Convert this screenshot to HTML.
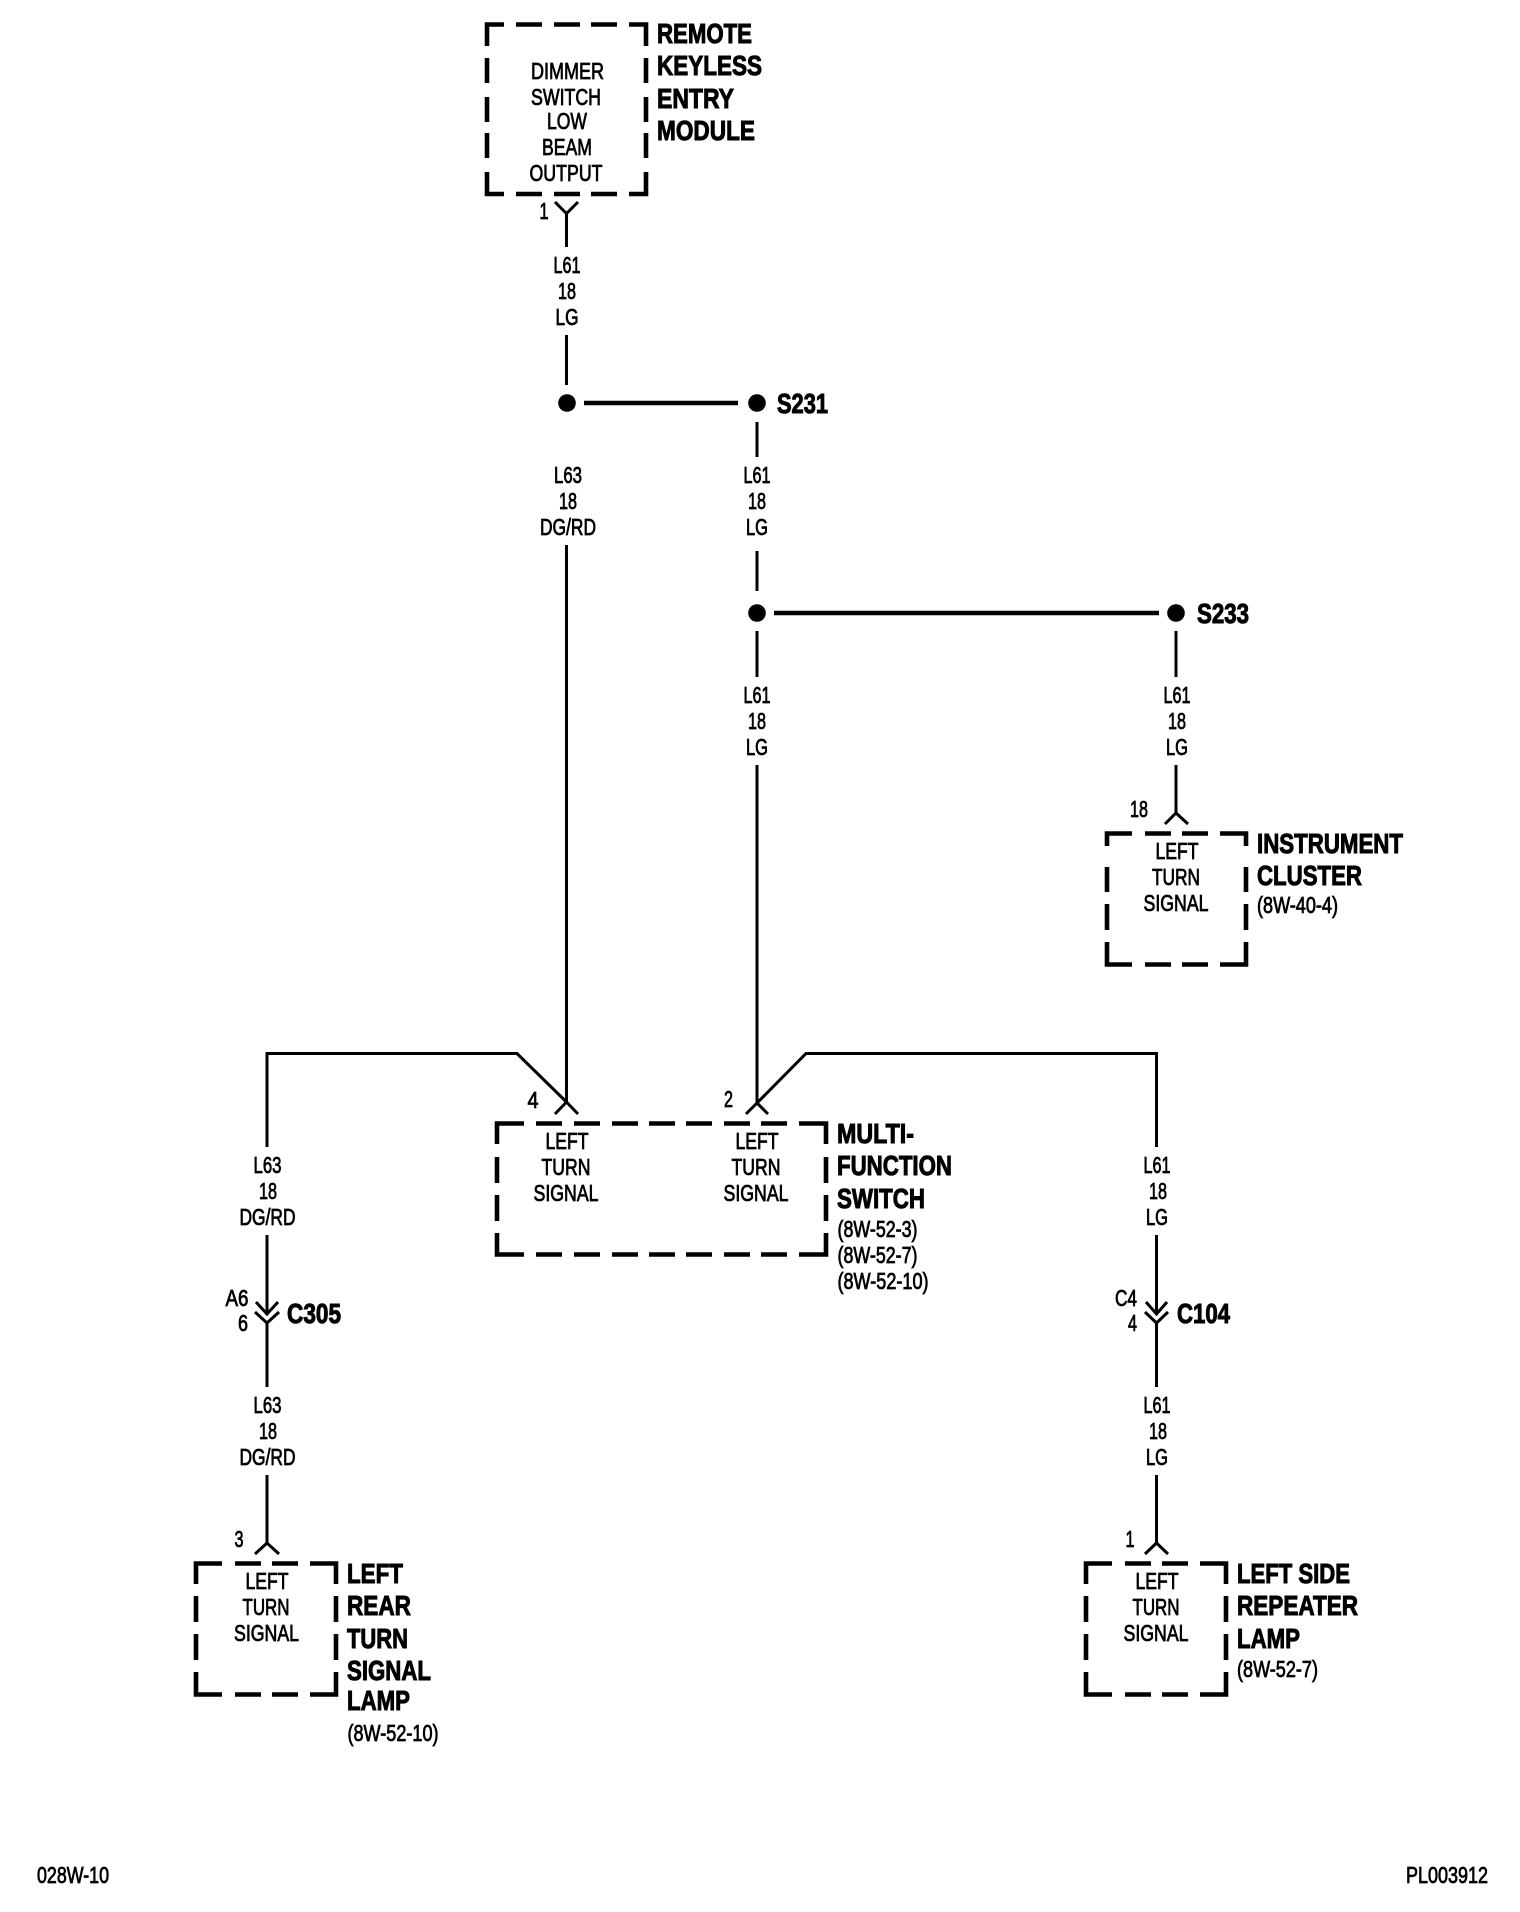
<!DOCTYPE html>
<html><head><meta charset="utf-8"><style>
html,body{margin:0;padding:0;background:#fff}
svg{display:block}
text{font-family:"Liberation Sans",sans-serif;fill:#000}
.s{font-size:23px;stroke:#000;stroke-width:.8}
.b{font-size:28px;font-weight:700;stroke:#000;stroke-width:1}
.m{text-anchor:middle}
.w{fill:none;stroke:#000;stroke-width:3}
.h{fill:none;stroke:#000;stroke-width:4.6}
</style></head><body>
<svg xmlns="http://www.w3.org/2000/svg" width="1520" height="1912" viewBox="0 0 1520 1912">
<rect width="1520" height="1912" fill="#fff"/>

<!-- boxes -->
<path class="h" d="M504 24.5H487V46M516 24.5H542M554 24.5H580M591 24.5H617M629 24.5H646V46M487 58V83M487 97V122M487 133V158M487 172V194H504M516 194H542M554 194H580M591 194H617M629 194H646V172M646 58V83M646 97V122M646 133V158"/>
<path class="h" d="M524 1123.5H497V1144M536 1123.5H562M574 1123.5H600M612 1123.5H638M649 1123.5H675M686 1123.5H712M724 1123.5H750M761 1123.5H787M799 1123.5H826V1144M497 1157V1183M497 1195V1221M497 1233V1254.5H524M536 1254.5H562M574 1254.5H600M612 1254.5H638M649 1254.5H675M686 1254.5H712M724 1254.5H750M761 1254.5H787M799 1254.5H826V1233M826 1157V1183M826 1195V1221"/>
<path class="h" d="M222 1563.5H196V1584M235 1563.5H261M272 1563.5H298M310 1563.5H336V1584M196 1596V1622M196 1634V1660M196 1672V1694.5H222M235 1694.5H261M272 1694.5H298M310 1694.5H336V1672M336 1596V1622M336 1634V1660"/>
<path class="h" d="M1112 1563.5H1086V1584M1125 1563.5H1151M1162 1563.5H1188M1200 1563.5H1226V1584M1086 1596V1622M1086 1634V1660M1086 1672V1694.5H1112M1125 1694.5H1151M1162 1694.5H1188M1200 1694.5H1226V1672M1226 1596V1622M1226 1634V1660"/>
<path class="h" d="M1132 833.5H1107V846M1145 833.5H1171M1182 833.5H1208M1220 833.5H1246V846M1107 867V892M1107 904V930M1107 942V964.5H1132M1145 964.5H1171M1182 964.5H1208M1220 964.5H1246V942M1246 867V892M1246 904V930"/>

<!-- wires -->
<path class="w" d="M555 202L566.5 213.5L578 202M566.5 213.5V247M566.5 335V385M566.5 545V1102"/>
<path class="h" d="M584 403H738M774 613H1159"/>
<circle cx="567" cy="403" r="8.8"/><circle cx="757" cy="403" r="8.8"/>
<circle cx="757" cy="613" r="8.8"/><circle cx="1176" cy="613" r="8.8"/>
<path class="w" d="M757 422V457M757 551V591M757 631V677M757 765V1103M1176 631V677M1176 765V813M1165 824L1176 813L1188 824"/>
<path class="w" d="M267 1147V1053.5H517L566.5 1102M555 1114L566.5 1102L578 1114M746 1114L757 1103L768 1114M757 1103L806 1053.5H1156.5V1147"/>
<path class="w" d="M267 1235V1314M256 1302L267 1314L278 1302M255 1312L267 1323L279 1312M267 1323V1387M267 1475V1543M255 1554L267 1543L279 1554"/>
<path class="w" d="M1156.5 1235V1314M1146 1302L1156.5 1314L1167 1302M1145 1312L1156.5 1323L1168 1312M1156.5 1323V1387M1156.5 1475V1543M1145 1554L1156.5 1543L1168 1554"/>

<!-- top module -->
<g class="s m">
<text x="567.5" y="79" textLength="73" lengthAdjust="spacingAndGlyphs">DIMMER</text>
<text x="566" y="105" textLength="70" lengthAdjust="spacingAndGlyphs">SWITCH</text>
<text x="567" y="129" textLength="40" lengthAdjust="spacingAndGlyphs">LOW</text>
<text x="567" y="155" textLength="50" lengthAdjust="spacingAndGlyphs">BEAM</text>
<text x="566" y="181" textLength="73" lengthAdjust="spacingAndGlyphs">OUTPUT</text>
<text x="544" y="219" textLength="9" lengthAdjust="spacingAndGlyphs">1</text>
<text x="567" y="273" textLength="27" lengthAdjust="spacingAndGlyphs">L61</text>
<text x="567" y="299" textLength="18" lengthAdjust="spacingAndGlyphs">18</text>
<text x="567" y="325" textLength="23" lengthAdjust="spacingAndGlyphs">LG</text>

<text x="568" y="483" textLength="28" lengthAdjust="spacingAndGlyphs">L63</text>
<text x="568" y="509" textLength="18" lengthAdjust="spacingAndGlyphs">18</text>
<text x="568" y="535" textLength="56" lengthAdjust="spacingAndGlyphs">DG/RD</text>
<text x="757" y="483" textLength="27" lengthAdjust="spacingAndGlyphs">L61</text>
<text x="757" y="509" textLength="18" lengthAdjust="spacingAndGlyphs">18</text>
<text x="757" y="535" textLength="22" lengthAdjust="spacingAndGlyphs">LG</text>
<text x="757" y="703" textLength="27" lengthAdjust="spacingAndGlyphs">L61</text>
<text x="757" y="729" textLength="18" lengthAdjust="spacingAndGlyphs">18</text>
<text x="757" y="755" textLength="22" lengthAdjust="spacingAndGlyphs">LG</text>
<text x="1177" y="703" textLength="27" lengthAdjust="spacingAndGlyphs">L61</text>
<text x="1177" y="729" textLength="18" lengthAdjust="spacingAndGlyphs">18</text>
<text x="1177" y="755" textLength="22" lengthAdjust="spacingAndGlyphs">LG</text>

<text x="1139" y="817" textLength="18" lengthAdjust="spacingAndGlyphs">18</text>
<text x="1177" y="859" textLength="43" lengthAdjust="spacingAndGlyphs">LEFT</text>
<text x="1176" y="885" textLength="48" lengthAdjust="spacingAndGlyphs">TURN</text>
<text x="1176" y="911" textLength="65" lengthAdjust="spacingAndGlyphs">SIGNAL</text>

<text x="533" y="1108" textLength="11" lengthAdjust="spacingAndGlyphs">4</text>
<text x="728.5" y="1107" textLength="9" lengthAdjust="spacingAndGlyphs">2</text>
<text x="567" y="1149" textLength="43" lengthAdjust="spacingAndGlyphs">LEFT</text>
<text x="566" y="1175" textLength="49" lengthAdjust="spacingAndGlyphs">TURN</text>
<text x="566" y="1201" textLength="65" lengthAdjust="spacingAndGlyphs">SIGNAL</text>
<text x="757" y="1149" textLength="43" lengthAdjust="spacingAndGlyphs">LEFT</text>
<text x="756" y="1175" textLength="49" lengthAdjust="spacingAndGlyphs">TURN</text>
<text x="756" y="1201" textLength="65" lengthAdjust="spacingAndGlyphs">SIGNAL</text>

<text x="267.5" y="1173" textLength="28" lengthAdjust="spacingAndGlyphs">L63</text>
<text x="268" y="1199" textLength="18" lengthAdjust="spacingAndGlyphs">18</text>
<text x="267.5" y="1225" textLength="56" lengthAdjust="spacingAndGlyphs">DG/RD</text>
<text x="237" y="1306" textLength="23" lengthAdjust="spacingAndGlyphs">A6</text>
<text x="243" y="1331" textLength="10" lengthAdjust="spacingAndGlyphs">6</text>
<text x="267.5" y="1413" textLength="28" lengthAdjust="spacingAndGlyphs">L63</text>
<text x="268" y="1439" textLength="18" lengthAdjust="spacingAndGlyphs">18</text>
<text x="267.5" y="1465" textLength="56" lengthAdjust="spacingAndGlyphs">DG/RD</text>
<text x="239" y="1547" textLength="9" lengthAdjust="spacingAndGlyphs">3</text>
<text x="267" y="1589" textLength="43" lengthAdjust="spacingAndGlyphs">LEFT</text>
<text x="266" y="1615" textLength="47" lengthAdjust="spacingAndGlyphs">TURN</text>
<text x="266.5" y="1641" textLength="65" lengthAdjust="spacingAndGlyphs">SIGNAL</text>

<text x="1157" y="1173" textLength="27" lengthAdjust="spacingAndGlyphs">L61</text>
<text x="1158" y="1199" textLength="18" lengthAdjust="spacingAndGlyphs">18</text>
<text x="1157" y="1225" textLength="22" lengthAdjust="spacingAndGlyphs">LG</text>
<text x="1126" y="1306" textLength="22" lengthAdjust="spacingAndGlyphs">C4</text>
<text x="1132.5" y="1331" textLength="9" lengthAdjust="spacingAndGlyphs">4</text>
<text x="1157" y="1413" textLength="27" lengthAdjust="spacingAndGlyphs">L61</text>
<text x="1158" y="1439" textLength="18" lengthAdjust="spacingAndGlyphs">18</text>
<text x="1157" y="1465" textLength="22" lengthAdjust="spacingAndGlyphs">LG</text>
<text x="1130" y="1547" textLength="9" lengthAdjust="spacingAndGlyphs">1</text>
<text x="1157" y="1589" textLength="43" lengthAdjust="spacingAndGlyphs">LEFT</text>
<text x="1156" y="1615" textLength="47" lengthAdjust="spacingAndGlyphs">TURN</text>
<text x="1156" y="1641" textLength="65" lengthAdjust="spacingAndGlyphs">SIGNAL</text>
</g>

<!-- side refs -->
<g class="s">
<text x="1257" y="913" textLength="81" lengthAdjust="spacingAndGlyphs">(8W-40-4)</text>
<text x="837.5" y="1237" textLength="80" lengthAdjust="spacingAndGlyphs">(8W-52-3)</text>
<text x="837.5" y="1263" textLength="80" lengthAdjust="spacingAndGlyphs">(8W-52-7)</text>
<text x="837.5" y="1289" textLength="91" lengthAdjust="spacingAndGlyphs">(8W-52-10)</text>
<text x="347.5" y="1741" textLength="91" lengthAdjust="spacingAndGlyphs">(8W-52-10)</text>
<text x="1237" y="1677" textLength="81" lengthAdjust="spacingAndGlyphs">(8W-52-7)</text>
<text x="37" y="1883" textLength="72" lengthAdjust="spacingAndGlyphs">028W-10</text>
<text x="1406" y="1883" textLength="82" lengthAdjust="spacingAndGlyphs">PL003912</text>
</g>

<!-- titles -->
<g class="b">
<text x="657" y="43" textLength="95" lengthAdjust="spacingAndGlyphs">REMOTE</text>
<text x="657" y="75" textLength="105" lengthAdjust="spacingAndGlyphs">KEYLESS</text>
<text x="657" y="108" textLength="77" lengthAdjust="spacingAndGlyphs">ENTRY</text>
<text x="657" y="140" textLength="98" lengthAdjust="spacingAndGlyphs">MODULE</text>
<text x="777" y="413" textLength="51" lengthAdjust="spacingAndGlyphs">S231</text>
<text x="1197" y="623" textLength="52" lengthAdjust="spacingAndGlyphs">S233</text>
<text x="1257" y="853" textLength="146" lengthAdjust="spacingAndGlyphs">INSTRUMENT</text>
<text x="1257" y="885" textLength="105" lengthAdjust="spacingAndGlyphs">CLUSTER</text>
<text x="837" y="1143" textLength="77" lengthAdjust="spacingAndGlyphs">MULTI-</text>
<text x="837" y="1175" textLength="115" lengthAdjust="spacingAndGlyphs">FUNCTION</text>
<text x="837" y="1208" textLength="88" lengthAdjust="spacingAndGlyphs">SWITCH</text>
<text x="287" y="1323" textLength="54" lengthAdjust="spacingAndGlyphs">C305</text>
<text x="1177" y="1323" textLength="53" lengthAdjust="spacingAndGlyphs">C104</text>
<text x="347" y="1583" textLength="56" lengthAdjust="spacingAndGlyphs">LEFT</text>
<text x="347" y="1615" textLength="64" lengthAdjust="spacingAndGlyphs">REAR</text>
<text x="347" y="1648" textLength="61" lengthAdjust="spacingAndGlyphs">TURN</text>
<text x="347" y="1680" textLength="84" lengthAdjust="spacingAndGlyphs">SIGNAL</text>
<text x="347" y="1710" textLength="63" lengthAdjust="spacingAndGlyphs">LAMP</text>
<text x="1237" y="1583" textLength="113" lengthAdjust="spacingAndGlyphs">LEFT SIDE</text>
<text x="1237" y="1615" textLength="121" lengthAdjust="spacingAndGlyphs">REPEATER</text>
<text x="1237" y="1648" textLength="63" lengthAdjust="spacingAndGlyphs">LAMP</text>
</g>
</svg>
</body></html>
